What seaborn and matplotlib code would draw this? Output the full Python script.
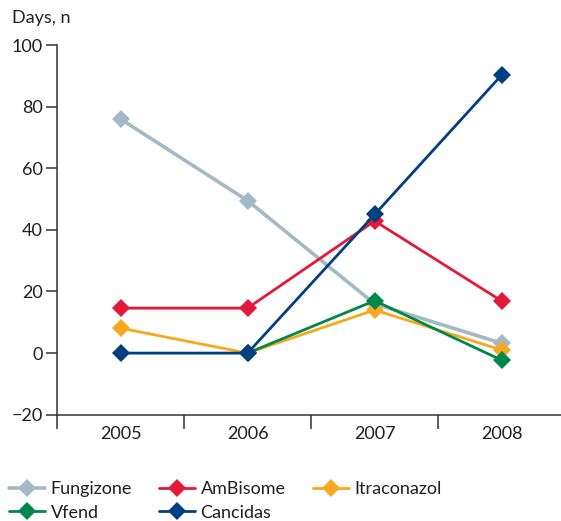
import matplotlib
matplotlib.use("Agg")
import matplotlib.pyplot as plt
import numpy as np
import seaborn as sns

# values
years = [2005, 2006, 2007, 2008]
fungizone = [76, 49.5, 16, 3.2]
ambisome = [14.6, 14.6, 42.9, 16.9]
itraconazol = [8.1, 0, 14, 1]
vfend = [np.nan, 0, 17, -2.3]
cancidas = [0, 0, 45, 90.3]

series_names = ["Fungizone", "AmBisome", "Itraconazol", "Vfend", "Cancidas"]
series_values = [fungizone, ambisome, itraconazol, vfend, cancidas]
colors = ["#a3b9c5", "#e4193a", "#f8a81c", "#00874b", "#003f80"]
y_ticks = [-20, 0, 20, 40, 60, 80, 100]

sns.set_style("white")
plt.rcParams["font.family"] = ["Lato", "DejaVu Sans"]
text_color = "#231f20"

fig = plt.figure(figsize=(5.61, 5.21), dpi=100)
ax = fig.add_axes([0.1016, 0.204, 0.906, 0.7095])

for i, (name, vals, c) in enumerate(zip(series_names, series_values, colors)):
    lw = 2.6 if name == "Fungizone" else 2.0
    sns.lineplot(x=years, y=vals, ax=ax, color=c, label=name, marker="D",
                 markersize=9, markeredgewidth=0, linewidth=lw, zorder=3 + i)

ax.set_xlim(2004.5, 2008.5)
ax.set_ylim(-20, 100)
ax.set_yticks(y_ticks)
ax.set_xticks(years)
ax.set_xticklabels([str(y) for y in years])
ax.set_xticks([2004.5, 2005.5, 2006.5, 2007.5], minor=True)
ax.tick_params(axis="x", which="major", length=0, pad=8, labelsize=13, labelcolor=text_color)
ax.tick_params(axis="x", which="minor", direction="out", length=10, width=1.1, color="#333333", bottom=True)
ax.tick_params(axis="y", direction="out", length=8, width=1.1, color="#333333", left=True,
               labelsize=13, labelcolor=text_color, pad=2)
for side in ["top", "right"]:
    ax.spines[side].set_visible(False)
for side in ["left", "bottom"]:
    ax.spines[side].set_color("#333333")
    ax.spines[side].set_linewidth(1.1)
ax.set_xlabel("")
ax.set_ylabel("")

fig.text(0.021, 0.965, "Days, n", fontsize=13, color=text_color, va="center", ha="left")

handles, labels = ax.get_legend_handles_labels()
ax.get_legend().remove()
order = [0, 3, 1, 4, 2]
fig.legend([handles[i] for i in order], [labels[i] for i in order],
           loc="upper left", bbox_to_anchor=(0.016, 0.076), ncol=3, frameon=False,
           fontsize=13, handlelength=2.0, handletextpad=0.3, columnspacing=1.5,
           labelspacing=0.4, borderpad=0, borderaxespad=0, labelcolor=text_color)

fig.savefig("out.png", dpi=100)
